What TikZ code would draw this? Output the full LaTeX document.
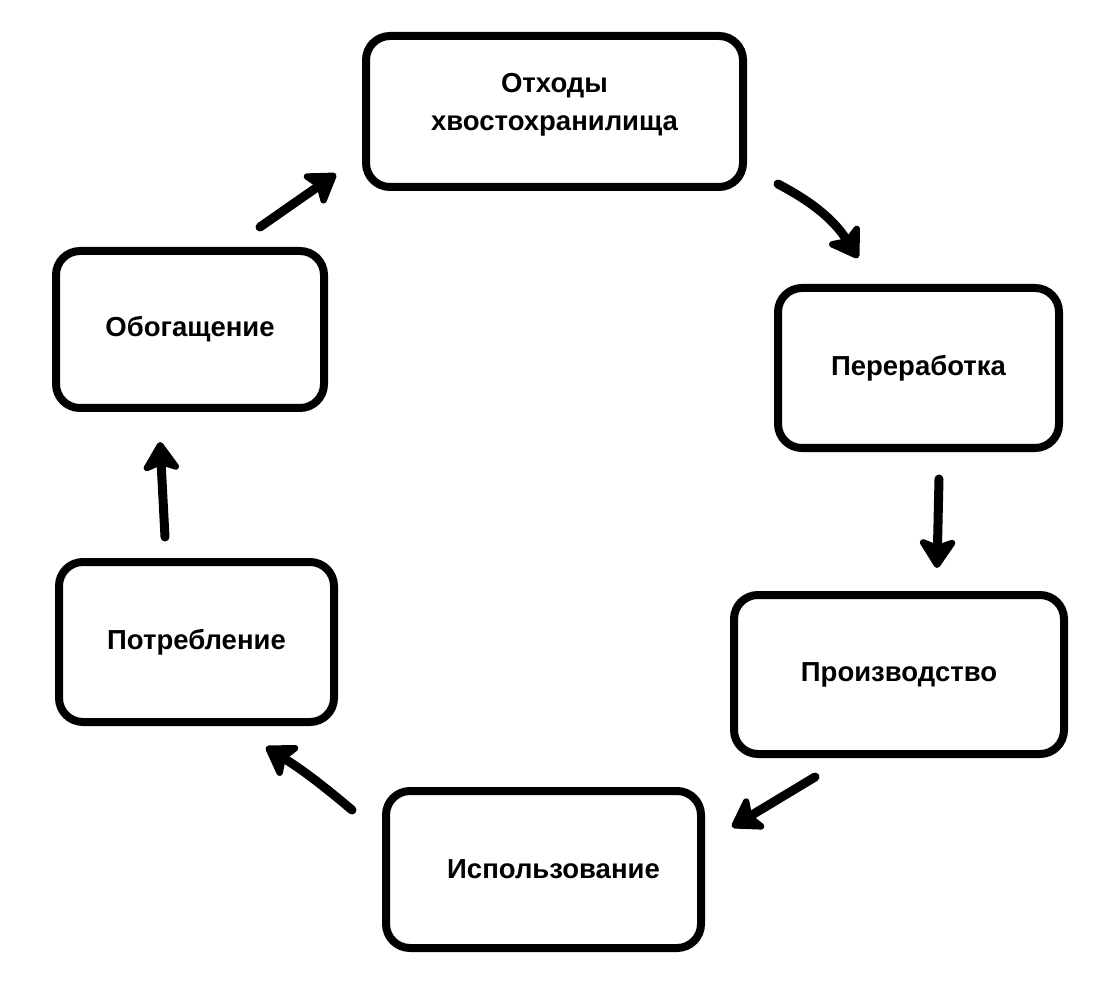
\documentclass[tikz,border=0pt]{standalone}
\usepackage{fontspec}
\setmainfont{Liberation Sans}
\usetikzlibrary{arrows.meta, positioning}
\tikzset{x=1pt, y=-1pt, >={Stealth[length=34pt, width=44pt, inset=8pt, round]},
	stage/.style={draw, line width=8pt, rounded corners=24pt, align=center, inner sep=0pt,
		font=\fontsize{27.5}{38}\selectfont\bfseries},
	flow/.style={->, line width=9pt, line cap=round}}

\begin{document}
\begin{tikzpicture}
	\useasboundingbox (0,0) rectangle (1120,984);
	\node[stage, minimum width=377pt, minimum height=151pt, text depth=20pt] (Tailings) at (554.5,111.5) {Отходы\\хвостохранилища};
	\node[stage, minimum width=281pt, minimum height=160pt] (Processing) at (918.5,368) {Переработка};
	\node[stage, minimum width=330pt, minimum height=159pt] (Production) at (899,674.5) {Производство};
	\node[stage, minimum width=315pt, minimum height=157pt] (Usage) at (543.5,869.5) {\hspace*{20pt}Использование};
	\node[stage, minimum width=275pt, minimum height=160pt] (Consumption) at (196.5,642) {Потребление};
	\node[stage, minimum width=268pt, minimum height=157pt] (Enrichment) at (190,329.5) {Обогащение};

	% free ends of the arrows
	\coordinate (Tailings out) at (778,184);
	\coordinate (Processing in) at (858,258);
	\coordinate (Processing out) at (939,479);
	\coordinate (Production in) at (937,568);
	\coordinate (Production out) at (815,777);
	\coordinate (Usage in) at (732,827);
	\coordinate (Usage out) at (352,810);
	\coordinate (Consumption in) at (266,747);
	\coordinate (Consumption out) at (165,537);
	\coordinate (Enrichment in) at (160,442);
	\coordinate (Enrichment out) at (260,227);
	\coordinate (Tailings in) at (336,174);

	\draw[flow] (Tailings out) to[bend left=15] (Processing in);
	\draw[flow] (Processing out) -- (Production in);
	\draw[flow] (Production out) -- (Usage in);
	\draw[flow] (Usage out) to[bend right=4] (Consumption in);
	\draw[flow] (Consumption out) -- (Enrichment in);
	\draw[flow] (Enrichment out) -- (Tailings in);
\end{tikzpicture}
\end{document}
